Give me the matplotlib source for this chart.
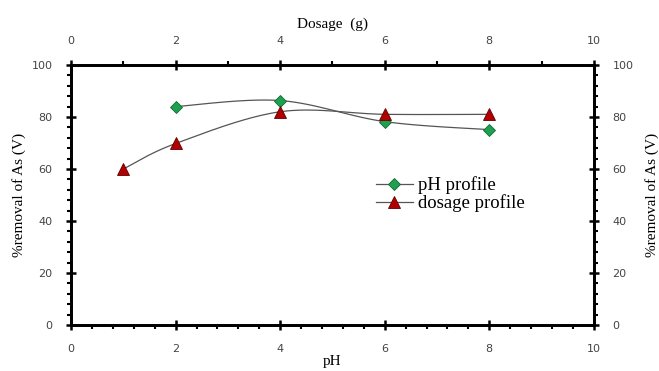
import numpy as np
import matplotlib
matplotlib.use('Agg')
import matplotlib.pyplot as plt
from matplotlib.ticker import MultipleLocator

# data
ph = [2, 4, 6, 8]
ph_removal = [84, 86.3, 78.2, 75.1]
dosage = [1, 2, 4, 6, 8]
dosage_removal = [60, 69.8, 82, 81, 81]

def smooth(x, y, n=40, t=1.0 / 6):
    # Excel-style smoothed line: Bezier segments with Catmull-Rom controls
    x = np.asarray(x, float); y = np.asarray(y, float)
    px = np.concatenate([[x[0]], x, [x[-1]]])
    py = np.concatenate([[y[0]], y, [y[-1]]])
    xs, ys = [], []
    s = np.linspace(0, 1, n)
    for i in range(1, len(px) - 2):
        p0 = np.array([px[i], py[i]]); p3 = np.array([px[i + 1], py[i + 1]])
        p1 = p0 + t * (np.array([px[i + 1], py[i + 1]]) - np.array([px[i - 1], py[i - 1]]))
        p2 = p3 - t * (np.array([px[i + 2], py[i + 2]]) - np.array([px[i], py[i]]))
        b = ((1 - s) ** 3)[:, None] * p0 + (3 * (1 - s) ** 2 * s)[:, None] * p1 \
            + (3 * (1 - s) * s ** 2)[:, None] * p2 + (s ** 3)[:, None] * p3
        xs.append(b[:, 0]); ys.append(b[:, 1])
    return np.concatenate(xs), np.concatenate(ys)

serif = ['Liberation Serif', 'DejaVu Serif']
tickfont = dict(family='DejaVu Sans', size=8, color='#444444')

fig = plt.figure(figsize=(6.59, 3.71), dpi=100)
ax = fig.add_axes([0.108, 0.124, 0.793, 0.701])

sx, sy = smooth(ph, ph_removal)
ax.plot(sx, sy, color='#555555', lw=0.9, zorder=2)
ax.plot(ph, ph_removal, ls='none', marker='D', ms=6, mfc='#1fa050', mec='#0d6b30', mew=0.6, zorder=3)
ax.plot([], [], color='#555555', lw=0.9, marker='D', ms=6, mfc='#1fa050', mec='#0d6b30', mew=0.6,
        label='pH profile')

ax.set_xlim(0, 10)
ax.set_ylim(0, 100)
ax.xaxis.set_major_locator(MultipleLocator(2))
ax.xaxis.set_minor_locator(MultipleLocator(0.4))
ax.yaxis.set_major_locator(MultipleLocator(20))
ax.yaxis.set_minor_locator(MultipleLocator(4))

ax2 = ax.twiny()
ax2.set_xlim(0, 10)
ax2.xaxis.set_major_locator(MultipleLocator(2))
ax2.xaxis.set_minor_locator(MultipleLocator(1))
dx, dy = smooth(dosage, dosage_removal)
ax2.plot(dx, dy, color='#555555', lw=0.9, zorder=2)
ax2.plot(dosage, dosage_removal, ls='none', marker='^', ms=8, mfc='#b00000', mec='#600000', mew=0.6, zorder=3)
ax.plot([], [], color='#555555', lw=0.9, marker='^', ms=8, mfc='#b00000', mec='#600000', mew=0.6,
        label='dosage profile')

ax3 = ax.twinx()
ax3.set_ylim(0, 100)
ax3.yaxis.set_major_locator(MultipleLocator(20))
ax3.yaxis.set_minor_locator(MultipleLocator(4))

for a in (ax, ax2, ax3):
    for sp in a.spines.values():
        sp.set_linewidth(1.8)
    a.tick_params(which='major', direction='inout', length=7, width=1.8, pad=10)
    a.tick_params(which='minor', direction='out', length=3, width=1.5)
    for lab in a.get_xticklabels() + a.get_yticklabels():
        lab.set_fontfamily(tickfont['family'])
        lab.set_fontsize(tickfont['size'])
        lab.set_color(tickfont['color'])

ax.set_xlabel('pH', family=serif, fontsize=11, labelpad=1)
ax.set_ylabel('%removal of As (V)', family=serif, fontsize=11, labelpad=4)
ax2.set_xlabel('Dosage  (g)', family=serif, fontsize=11, labelpad=6)
ax3.set_ylabel('%removal of As (V)', family=serif, fontsize=11, labelpad=8, rotation=90)

ax.legend(loc='upper left', bbox_to_anchor=(0.568, 0.6), frameon=False,
          prop={'family': serif, 'size': 13.5}, handlelength=2.0, handletextpad=0.25,
          labelspacing=0.0, borderaxespad=0)

fig.savefig('out.png', dpi=100)
